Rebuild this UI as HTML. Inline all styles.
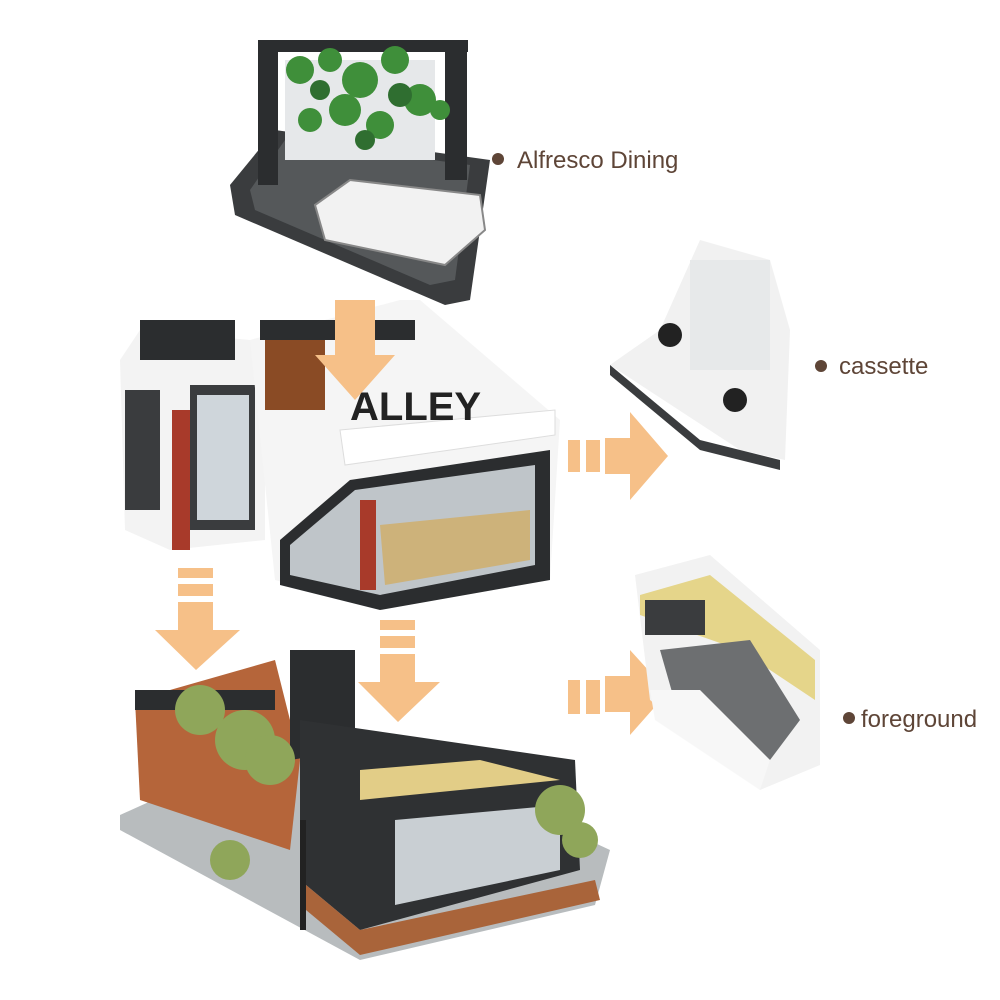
<!DOCTYPE html>
<html><head><style>
html,body{margin:0;padding:0;background:#fff;}
svg{display:block}
text{font-family:"Liberation Sans",sans-serif;fill:#5e4537;font-size:24px}
</style></head><body>
<svg width="1000" height="1000" viewBox="0 0 1000 1000">
<!-- top module -->
<polygon points="230,185 275,130 490,160 470,300 445,305 235,215" fill="#3a3c3e"/>
<polygon points="250,190 285,140 470,165 455,280 430,285 255,210" fill="#55585a"/>
<polygon points="315,205 350,180 480,195 485,230 445,265 325,240" fill="#f2f2f2" stroke="#888" stroke-width="2"/>
<rect x="258" y="45" width="20" height="140" fill="#2b2d2f"/>
<rect x="445" y="40" width="22" height="140" fill="#2b2d2f"/>
<rect x="258" y="40" width="210" height="12" fill="#2b2d2f"/>
<rect x="285" y="60" width="150" height="100" fill="#e6e8ea"/>
<g fill="#3f8f3a">
<circle cx="300" cy="70" r="14"/><circle cx="330" cy="60" r="12"/><circle cx="360" cy="80" r="18"/><circle cx="395" cy="60" r="14"/><circle cx="420" cy="100" r="16"/><circle cx="345" cy="110" r="16"/><circle cx="380" cy="125" r="14"/><circle cx="310" cy="120" r="12"/><circle cx="440" cy="110" r="10"/>
</g>
<g fill="#2f6e30"><circle cx="320" cy="90" r="10"/><circle cx="400" cy="95" r="12"/><circle cx="365" cy="140" r="10"/></g>
<!-- middle module -->
<polygon points="120,360 140,330 250,340 265,380 265,540 170,550 125,530" fill="#f3f3f3"/>
<rect x="140" y="320" width="95" height="40" fill="#2b2d2f"/>
<rect x="172" y="410" width="18" height="140" fill="#a83a2a"/>
<rect x="190" y="385" width="65" height="145" fill="#3a3c3e"/>
<rect x="197" y="395" width="52" height="125" fill="#cfd6db"/>
<rect x="125" y="390" width="35" height="120" fill="#3a3c3e"/>
<polygon points="250,340 400,300 420,300 560,420 550,580 380,610 275,580" fill="#f5f5f5"/>
<rect x="260" y="320" width="155" height="20" fill="#2b2d2f"/>
<rect x="265" y="340" width="60" height="70" fill="#8a4b25"/>
<polygon points="280,540 350,480 550,450 550,580 380,610 280,585" fill="#2b2d2f"/>
<polygon points="290,545 355,490 535,465 535,565 380,595 290,575" fill="#bfc5c9"/>
<polygon points="380,525 530,510 530,560 385,585" fill="#cdb27a"/>
<rect x="360" y="500" width="16" height="90" fill="#a83a2a"/>
<polygon points="340,430 555,410 555,435 345,465" fill="#fff" stroke="#ddd"/>
<text x="350" y="420" style="font-size:40px;font-weight:bold;fill:#222">ALLEY</text>
<!-- arrows -->
<g fill="#f6c088">
<polygon points="335,300 375,300 375,355 395,355 355,400 315,355 335,355"/>
<rect x="568" y="440" width="12" height="32"/><rect x="586" y="440" width="14" height="32"/>
<polygon points="605,438 630,438 630,412 668,456 630,500 630,474 605,474"/>
<rect x="178" y="568" width="35" height="10"/><rect x="178" y="584" width="35" height="12"/>
<polygon points="178,602 213,602 213,630 240,630 196,670 155,630 178,630"/>
<rect x="380" y="620" width="35" height="10"/><rect x="380" y="636" width="35" height="12"/>
<polygon points="380,654 415,654 415,682 440,682 398,722 358,682 380,682"/>
<rect x="568" y="680" width="12" height="34"/><rect x="586" y="680" width="14" height="34"/>
<polygon points="605,676 630,676 630,650 668,692 630,735 630,712 605,712"/>
</g>
<!-- cassette -->
<polygon points="610,365 660,330 700,240 770,260 790,330 785,460 740,450" fill="#f1f1f1"/>
<polygon points="610,365 700,440 780,460 780,470 700,450 610,375" fill="#3a3c3e"/>
<rect x="690" y="260" width="80" height="110" fill="#e7e9ea"/>
<circle cx="670" cy="335" r="12" fill="#222"/><circle cx="735" cy="400" r="12" fill="#222"/>
<!-- foreground -->
<polygon points="635,575 710,555 820,650 820,765 760,790 650,700" fill="#f2f2f2"/>
<polygon points="640,595 710,575 815,660 815,700 740,650 640,615" fill="#e5d58a"/>
<rect x="645" y="600" width="60" height="35" fill="#3a3c3e"/>
<polygon points="660,650 750,640 800,720 770,760 680,720" fill="#6d6f71"/>
<polygon points="650,690 700,690 770,760 760,790 655,720" fill="#f7f7f7"/>
<!-- bottom module -->
<polygon points="120,815 330,720 610,850 595,905 360,960 120,830" fill="#b8bcbe"/>
<polygon points="135,700 275,660 300,760 290,850 140,800" fill="#b5653a"/>
<rect x="135" y="690" width="140" height="20" fill="#2b2d2f"/>
<polygon points="290,650 355,650 355,750 290,760" fill="#2b2d2f"/>
<polygon points="300,720 575,760 580,870 360,930 300,880" fill="#2f3133"/>
<polygon points="360,770 480,760 560,780 360,800" fill="#e2cd87"/>
<polygon points="395,820 560,805 560,870 395,905" fill="#c9cfd3"/>
<polygon points="300,880 360,930 595,880 600,900 360,955 300,905" fill="#a9643a"/>
<g fill="#8fa65a"><circle cx="200" cy="710" r="25"/><circle cx="245" cy="740" r="30"/><circle cx="270" cy="760" r="25"/><circle cx="230" cy="860" r="20"/><circle cx="560" cy="810" r="25"/><circle cx="580" cy="840" r="18"/></g>
<rect x="300" y="820" width="6" height="110" fill="#222"/>
<!-- labels -->
<circle cx="498" cy="159" r="6" fill="#5e4537"/>
<text x="517" y="168">Alfresco Dining</text>
<circle cx="821" cy="366" r="6" fill="#5e4537"/>
<text x="839" y="374">cassette</text>
<circle cx="849" cy="718" r="6" fill="#5e4537"/>
<text x="861" y="727">foreground</text>
</svg>
</body></html>
